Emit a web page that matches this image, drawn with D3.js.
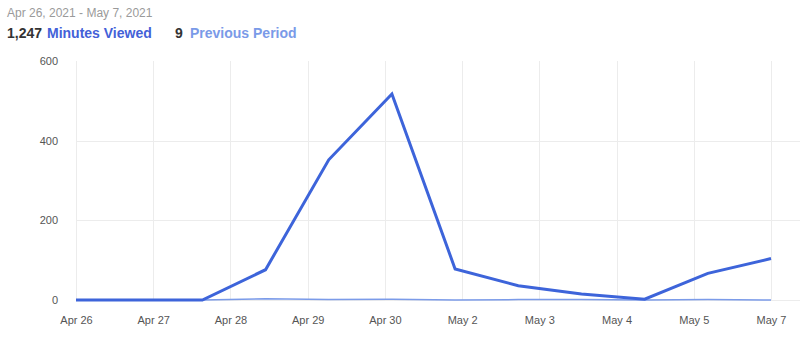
<!DOCTYPE html>
<html>
<head>
<meta charset="utf-8">
<script src="https://cdn.jsdelivr.net/npm/d3@7/dist/d3.min.js"></script>
<style>
  html, body { margin: 0; padding: 0; background: #fff; }
  body { font-family: "Liberation Sans", Arial, sans-serif; }
  svg { display: block; }
</style>
</head>
<body>
<svg id="chart" width="806" height="337"></svg>
<script>
// Daily minutes viewed, Apr 26 – May 7 2021
const days = ["Apr 26", "Apr 27", "Apr 28", "Apr 29", "Apr 30", "May 1",
              "May 2", "May 3", "May 4", "May 5", "May 6", "May 7"];
const minutesViewed = [0, 0, 0, 76, 352, 517, 78, 36, 15, 2, 67, 104];
const previousPeriod = [0, 0, 0, 3, 1, 2, 0, 1, 1, 0, 1, 0];
const xTickLabels = ["Apr 26", "Apr 27", "Apr 28", "Apr 29", "Apr 30",
                     "May 2", "May 3", "May 4", "May 5", "May 7"];
const yTicks = [0, 200, 400, 600];
const dateRange = "Apr 26, 2021 - May 7, 2021";

const svg = d3.select("#chart");
const plotLeft = 76, plotRight = 771, plotTop = 61, plotBottom = 300, gridRight = 800;

const x = d3.scalePoint().domain(days).range([plotLeft, plotRight]);
const xTicks = d3.scalePoint().domain(xTickLabels).range([plotLeft, plotRight]);
const y = d3.scaleLinear().domain([0, 600]).range([plotBottom, plotTop]);

// Header
svg.append("text").attr("x", 7).attr("y", 17)
  .attr("font-size", 12).attr("fill", "#9a9a9a").text(dateRange);

const fmt = d3.format(",");
const head = svg.append("text").attr("y", 38).attr("font-size", 14).attr("font-weight", "bold");
head.append("tspan").attr("x", 7).attr("fill", "#333").text(fmt(d3.sum(minutesViewed)));
head.append("tspan").attr("x", 47).attr("fill", "#4361d8").text("Minutes Viewed");
head.append("tspan").attr("x", 175).attr("fill", "#333").text(fmt(d3.sum(previousPeriod)));
head.append("tspan").attr("x", 190).attr("fill", "#7a9ae8").text("Previous Period");

// Grid
const grid = svg.append("g").attr("stroke", "#ececec").attr("stroke-width", 1);
grid.selectAll("line.v").data(xTickLabels).join("line")
  .attr("x1", d => Math.round(xTicks(d)) + 0.5).attr("x2", d => Math.round(xTicks(d)) + 0.5)
  .attr("y1", plotTop).attr("y2", plotBottom);
grid.selectAll("line.h").data(yTicks.filter(d => d < 600)).join("line")
  .attr("x1", plotLeft).attr("x2", gridRight)
  .attr("y1", d => Math.round(y(d)) + 0.5).attr("y2", d => Math.round(y(d)) + 0.5);

// Y axis labels
const yAxis = svg.append("g").attr("transform", `translate(${plotLeft - 18},0)`)
  .call(d3.axisLeft(y).tickValues(yTicks).tickSize(0).tickPadding(0));
yAxis.select(".domain").remove();
yAxis.selectAll("text").attr("font-size", 11).attr("fill", "#555")
  .attr("font-family", "'Liberation Sans', Arial, sans-serif");

// X axis labels
const xAxis = svg.append("g").attr("transform", `translate(0,${plotBottom + 16})`)
  .call(d3.axisBottom(xTicks).tickSize(0).tickPadding(0));
xAxis.select(".domain").remove();
xAxis.selectAll("text").attr("font-size", 11).attr("fill", "#555")
  .attr("font-family", "'Liberation Sans', Arial, sans-serif");

// Lines
const line = d3.line().x((d, i) => x(days[i])).y(d => y(d));
svg.append("path").datum(previousPeriod).attr("d", line)
  .attr("fill", "none").attr("stroke", "#7b9be9").attr("stroke-width", 1.5);
svg.append("path").datum(minutesViewed).attr("d", line)
  .attr("fill", "none").attr("stroke", "#3d64da").attr("stroke-width", 3)
  .attr("stroke-linejoin", "miter");
</script>
</body>
</html>
